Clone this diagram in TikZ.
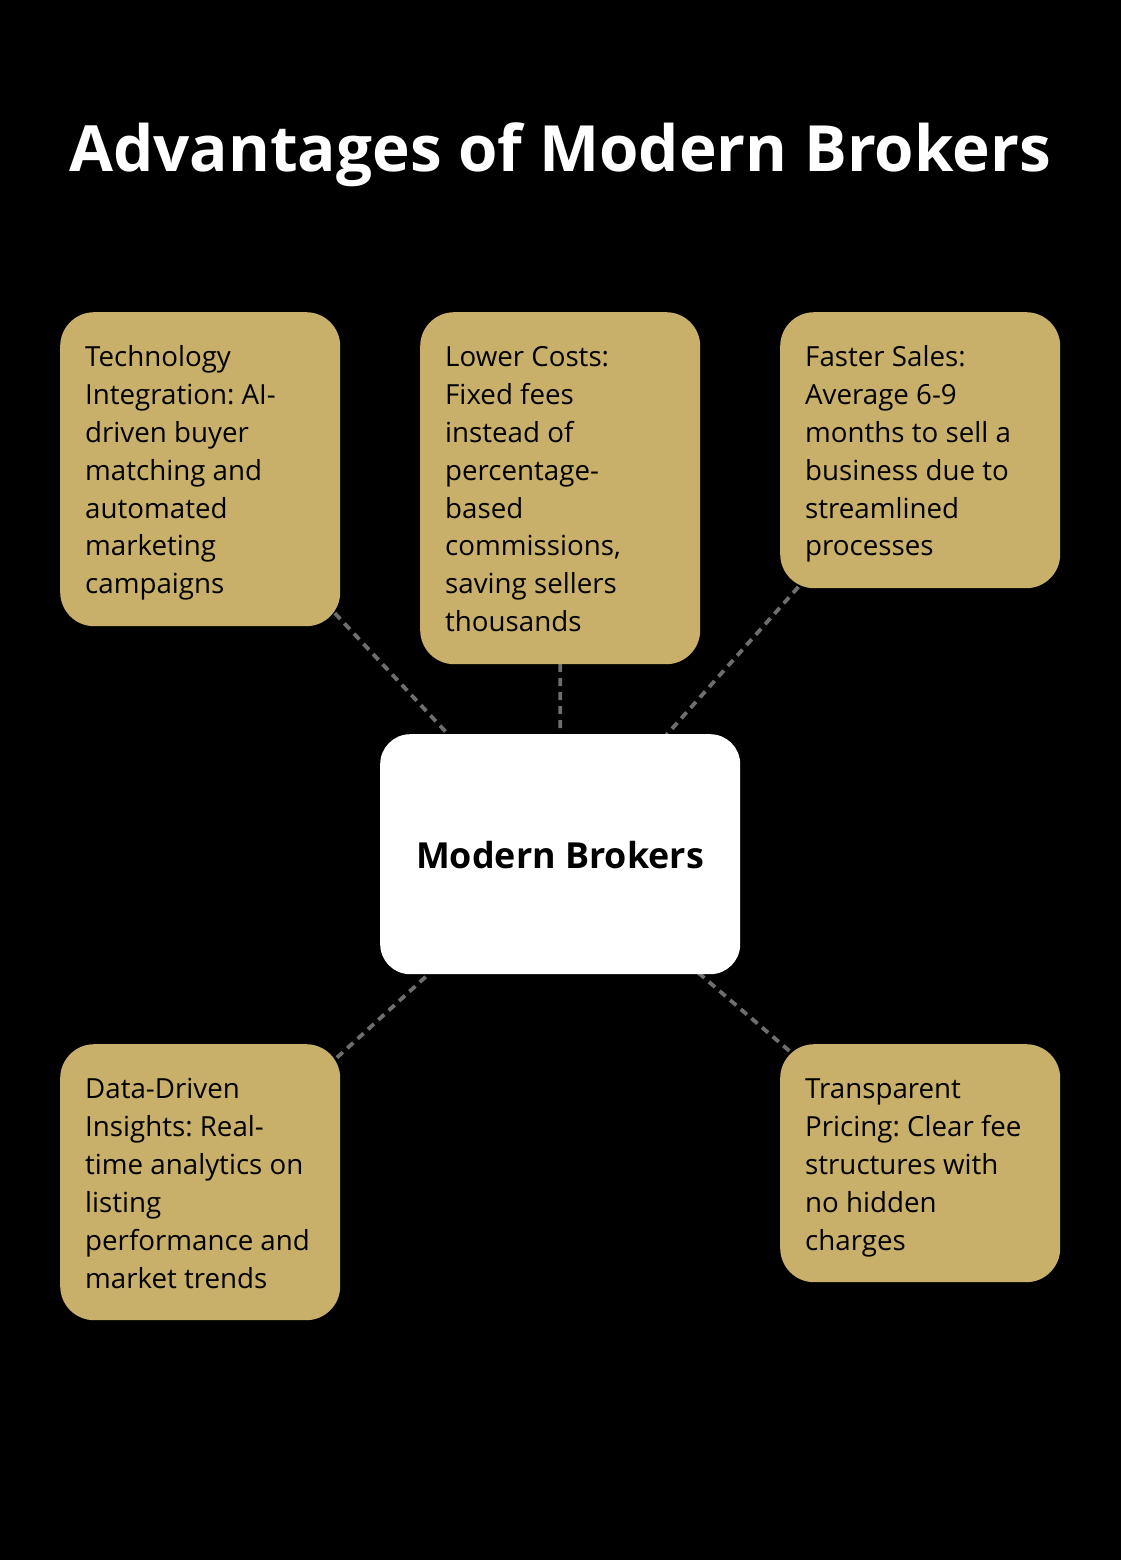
\documentclass[tikz,border=0pt]{standalone}
\usepackage{fontspec}
\setmainfont{Open Sans}
\usetikzlibrary{backgrounds}
\frenchspacing
\definecolor{gold}{HTML}{C8B06A}
\definecolor{dashgray}{HTML}{6E6E6E}
\tikzset{
  card/.style={fill=gold, draw=none, rounded corners=34bp, minimum width=280bp, inner sep=0pt, anchor=north west},
  hub/.style={fill=white, draw=none, rounded corners=30bp, minimum width=360bp, minimum height=240bp, inner sep=0pt, anchor=north west},
  cardtext/.style={anchor=north west, inner sep=0pt, align=left, text=black, font=\fontsize{27.8}{38.1}\selectfont},
  link/.style={draw=dashgray, line width=3.8bp, dash pattern=on 8bp off 6bp},
}
\begin{document}
\begin{tikzpicture}[x=1bp,y=-1bp]
\useasboundingbox (0,0) rectangle (1120,1560);
\begin{scope}[on background layer]
\fill[black] (-20,-20) rectangle (1140,1580);
\end{scope}

\node[anchor=base, text=white, font=\fontsize{64}{76}\selectfont\bfseries, inner sep=0pt] (title) at (560,171) {Advantages of Modern Brokers};

\node[hub, minimum height=240bp] (hub) at (380,734) {};
\node[anchor=base, inner sep=0pt, font=\fontsize{36}{42}\selectfont\bfseries] (hubtext) at (560,868) {Modern Brokers};

\node[card, minimum height=314bp] (tech) at (60,312) {};
\node[card, minimum height=352bp] (cost) at (420,312) {};
\node[card, minimum height=276bp] (fast) at (780,312) {};
\node[card, minimum height=276bp] (data) at (60,1044) {};
\node[card, minimum height=238bp] (trans) at (780,1044) {};

\node[cardtext] (techt) at (85,336) {\rule{0pt}{30bp}Technology\\Integration: AI-\\driven buyer\\matching and\\automated\\marketing\\campaigns};
\node[cardtext] (costt) at (445,336) {\rule{0pt}{30bp}Lower Costs:\\Fixed fees\\instead of\\percentage-\\based\\commissions,\\saving sellers\\thousands};
\node[cardtext] (fastt) at (805,336) {\rule{0pt}{30bp}Faster Sales:\\Average 6-9\\months to sell a\\business due to\\streamlined\\processes};
\node[cardtext] (datat) at (85,1068) {\rule{0pt}{30bp}Data-Driven\\Insights: Real-\\time analytics on\\listing\\performance and\\market trends};
\node[cardtext] (transt) at (805,1068) {\rule{0pt}{30bp}Transparent\\Pricing: Clear fee\\structures with\\no hidden\\charges};

\begin{scope}[on background layer]
\draw[link] (hub.center) -- (tech.center);
\draw[link] (hub.center) -- (cost.center);
\draw[link] (hub.center) -- (fast.center);
\draw[link] (hub.center) -- (data.center);
\draw[link] (hub.center) -- (trans.center);
\end{scope}
\end{tikzpicture}
\end{document}
